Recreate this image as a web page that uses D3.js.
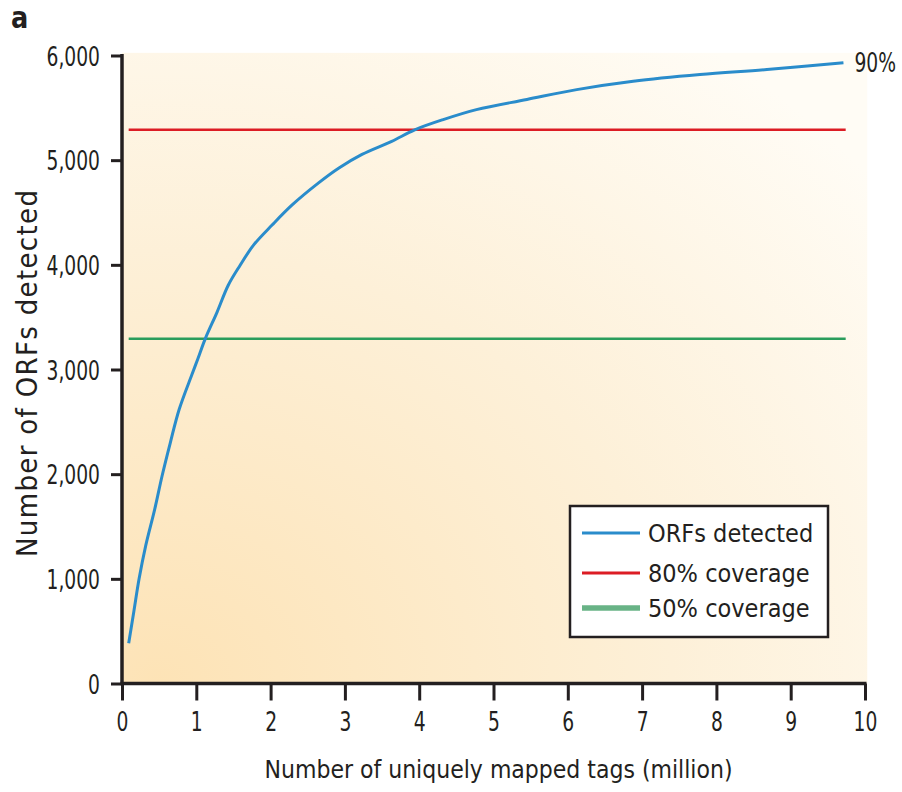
<!DOCTYPE html>
<html><head><meta charset="utf-8">
<script src="https://cdn.jsdelivr.net/npm/d3@7"></script>
<style>
html,body{margin:0;padding:0;background:#fff;}
text{font-family:"DejaVu Sans Condensed","DejaVu Sans",sans-serif;font-stretch:condensed;fill:#231f20;}
</style></head>
<body><svg id="chart" width="902" height="792"></svg>
<script>
// Data
const tagsMillion = [0.09,0.16,0.23,0.32,0.44,0.54,0.65,0.77,0.94,1.02,1.12,1.28,1.43,1.59,1.77,2.02,2.29,2.65,2.92,3.23,3.63,3.94,4.32,4.77,5.45,6.12,6.88,7.78,8.68,9.71];
const orfsDetected = [385,690,1000,1320,1664,1985,2300,2620,2950,3100,3293,3549,3805,3996,4188,4380,4572,4785,4925,5055,5180,5290,5387,5483,5580,5674,5754,5818,5866,5930];
const coverage80 = 5290;
const coverage50 = 3293;
const coverageXRange = [0.09, 9.74];
const xTicks = [0,1,2,3,4,5,6,7,8,9,10];
const yTicks = [0,1000,2000,3000,4000,5000,6000];
const legendLabels = ["ORFs detected","80% coverage","50% coverage"];
const endLabel = "90%";

const svg = d3.select("#chart");
const x = d3.scaleLinear().domain([0,10]).range([122,865]);
const y = d3.scaleLinear().domain([0,6000]).range([683.5,55.5]);
const NARROW = 0.77;

// background gradient
const defs = svg.append("defs");
const grad = defs.append("radialGradient").attr("id","bg")
  .attr("cx","0.05").attr("cy","1").attr("r","1.25").attr("fx","0.05").attr("fy","1");
grad.append("stop").attr("offset","0").attr("stop-color","#fde3b6");
grad.append("stop").attr("offset","0.55").attr("stop-color","#fdf0d8");
grad.append("stop").attr("offset","1").attr("stop-color","#fffcf5");

svg.append("rect").attr("x",x(0)).attr("y",y(6025))
  .attr("width",x(10.03)-x(0)).attr("height",y(0)-y(6025))
  .attr("fill","url(#bg)");

// coverage lines
svg.append("line").attr("x1",x(coverageXRange[0])).attr("x2",x(coverageXRange[1]))
  .attr("y1",y(coverage50)).attr("y2",y(coverage50))
  .attr("stroke","#2a9d5c").attr("stroke-width",2.5);
svg.append("line").attr("x1",x(coverageXRange[0])).attr("x2",x(coverageXRange[1]))
  .attr("y1",y(coverage80)).attr("y2",y(coverage80))
  .attr("stroke","#dc1c24").attr("stroke-width",2.5);

// curve
const pts = tagsMillion.map((t,i)=>[t,orfsDetected[i]]);
svg.append("path").datum(pts)
  .attr("d",d3.line().x(d=>x(d[0])).y(d=>y(d[1])).curve(d3.curveCatmullRom.alpha(0.5)))
  .attr("fill","none").attr("stroke","#2a8ccb").attr("stroke-width",3);

// axes
const xAxis = svg.append("g").attr("transform",`translate(0,${y(0)})`)
  .call(d3.axisBottom(x).tickValues(xTicks).tickFormat(d3.format("d")).tickSize(17).tickPadding(11).tickSizeOuter(0));
const yAxis = svg.append("g").attr("transform",`translate(${x(0)},0)`)
  .call(d3.axisLeft(y).tickValues(yTicks).tickFormat(d3.format(",")).tickSize(11).tickPadding(11).tickSizeOuter(0));
[xAxis,yAxis].forEach(g=>{
  g.selectAll(".domain").attr("stroke","#231f20").attr("stroke-width",3.5);
  g.selectAll(".tick line").attr("stroke","#231f20").attr("stroke-width",3);
  g.selectAll(".tick text").attr("font-size",27).attr("fill","#231f20").style("font-family",null)
    .each(function(){
      const t = d3.select(this);
      const tx = +t.attr("x") || 0;
      t.attr("x",0).attr("transform",`translate(${tx},0) scale(${NARROW},1)`);
    });
});
xAxis.select(".domain").attr("d",`M${x(0)-1.5},0H${x(10)+1.5}`);
yAxis.select(".domain").attr("d",`M0,${y(6000)-1.5}V${y(0)+1.5}`);
yAxis.selectAll(".tick text").attr("dy","0.36em");

// axis titles
svg.append("text").attr("x",(x(0)+x(10))/2+5).attr("y",778)
  .attr("text-anchor","middle").attr("font-size",24).attr("textLength",468).attr("lengthAdjust","spacingAndGlyphs")
  .text("Number of uniquely mapped tags (million)");
svg.append("text").attr("transform",`translate(37,${373.5}) rotate(-90)`)
  .attr("text-anchor","middle").attr("font-size",29).attr("textLength",367).attr("lengthAdjust","spacing")
  .text("Number of ORFs detected");

// end label
svg.append("text").attr("transform",`translate(${x(tagsMillion[tagsMillion.length-1])+11},${y(orfsDetected[orfsDetected.length-1])+9}) scale(${NARROW},1)`)
  .attr("font-size",27).text(endLabel);

// panel label
svg.append("text").attr("transform","translate(11,28) scale(0.95,1)").attr("font-size",30).attr("font-weight","bold").text("a");

// legend
const lg = svg.append("g").attr("transform","translate(570,506)");
lg.append("rect").attr("width",258).attr("height",131).attr("fill","#fff")
  .attr("stroke","#231f20").attr("stroke-width",2.5);
const legendColors = ["#2a8ccb","#dc1c24","#68b386"];
const legendWidths = [3,3,5.5];
const legendY = [27,67,102];
legendLabels.forEach((lab,i)=>{
  lg.append("line").attr("x1",12).attr("x2",70).attr("y1",legendY[i]).attr("y2",legendY[i])
    .attr("stroke",legendColors[i]).attr("stroke-width",legendWidths[i]);
  lg.append("text").attr("x",78).attr("y",legendY[i]+9).attr("font-size",25).text(lab);
});
</script></body></html>
